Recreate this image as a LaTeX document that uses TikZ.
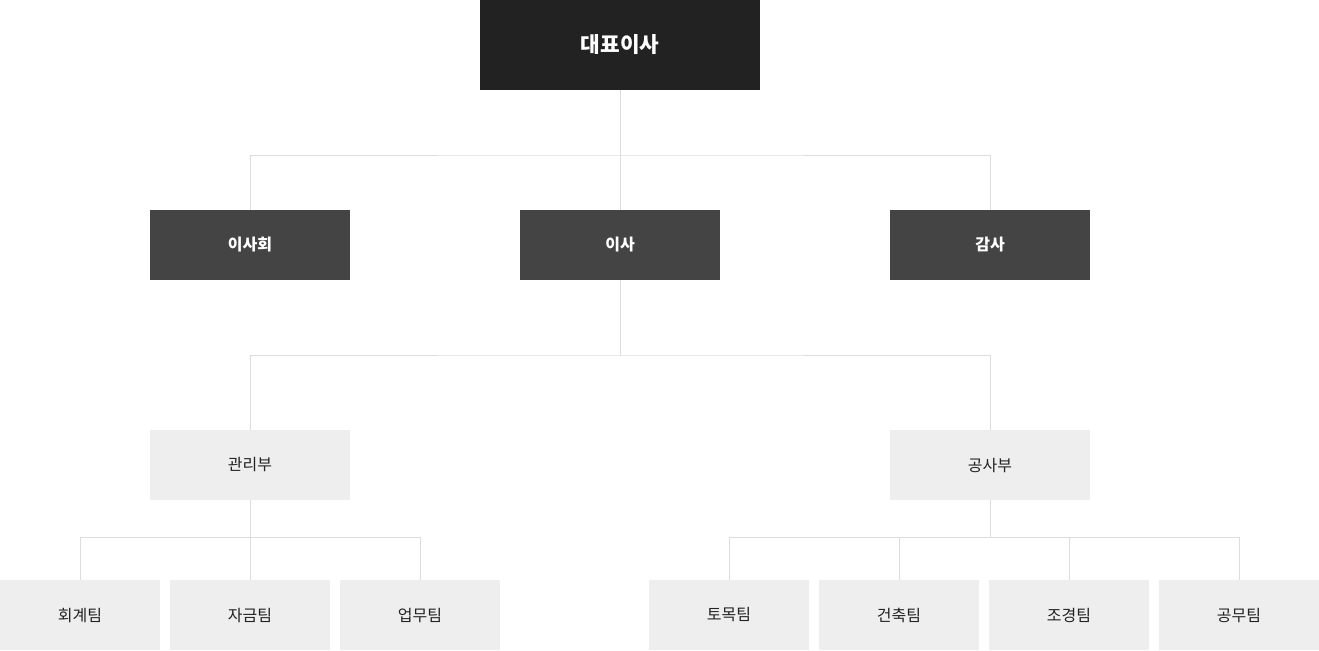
\documentclass[tikz,border=0pt]{standalone}
\usepackage{fontspec}
\setmainfont{Noto Sans CJK KR}
\definecolor{topdark}{HTML}{222222}
\definecolor{middark}{HTML}{444444}
\definecolor{boxgray}{HTML}{EEEEEE}
\definecolor{linegray}{HTML}{DDDDDD}
\tikzset{
  ceobox/.style={fill=topdark,text=white,font=\fontsize{16}{18}\selectfont\bfseries,minimum width=210pt,minimum height=67.5pt,inner sep=0pt},
  headbox/.style={fill=middark,text=white,font=\fontsize{12}{14}\selectfont\bfseries,minimum width=150pt,minimum height=52.5pt,inner sep=0pt},
  deptbox/.style={fill=boxgray,text=topdark,font=\fontsize{12}{14}\selectfont,minimum width=150pt,minimum height=52.5pt,inner sep=0pt},
  teambox/.style={fill=boxgray,text=topdark,font=\fontsize{12}{14}\selectfont,minimum width=120pt,minimum height=52.5pt,inner sep=0pt},
  link/.style={draw=linegray,line width=0.75pt}
}
\begin{document}
\begin{tikzpicture}[x=0.75pt,y=-0.75pt]
      \useasboundingbox (0,0) rectangle (1319,650);
      \node[ceobox] (ceo) at (620,45) {대표이사};
      \node[headbox] (board) at (250,245) {이사회};
      \node[headbox] (director) at (620,245) {이사};
      \node[headbox] (audit) at (990,245) {감사};
      \node[deptbox] (mgmt) at (250,465) {관리부};
      \node[deptbox] (works) at (990,465) {공사부};
      \node[teambox] (acct) at (80,615) {회계팀};
      \node[teambox] (fund) at (250,615) {자금팀};
      \node[teambox] (biz) at (420,615) {업무팀};
      \node[teambox] (civil) at (729,615) {토목팀};
      \node[teambox] (arch) at (899,615) {건축팀};
      \node[teambox] (land) at (1069,615) {조경팀};
      \node[teambox] (public) at (1239,615) {공무팀};
      \coordinate (j1) at (620,155);
      \coordinate (j2) at (620,355);
      \coordinate (j3) at (250,537);
      \coordinate (j4) at (990,537);
      \draw[link] (ceo.south) -- (director.north);
      \draw[link] (board.north) |- (j1) -| (audit.north);
      \draw[link] (director.south) -- (j2);
      \draw[link] (mgmt.north) |- (j2) -| (works.north);
      \draw[link] (mgmt.south) -- (fund.north);
      \draw[link] (acct.north) |- (j3) -| (biz.north);
      \draw[link] (works.south) -- (j4);
      \draw[link] (civil.north) |- (j4) -| (public.north);
      \draw[link] (arch.north) -- (arch.north |- j4);
      \draw[link] (land.north) -- (land.north |- j4);
    \end{tikzpicture}
\end{document}
